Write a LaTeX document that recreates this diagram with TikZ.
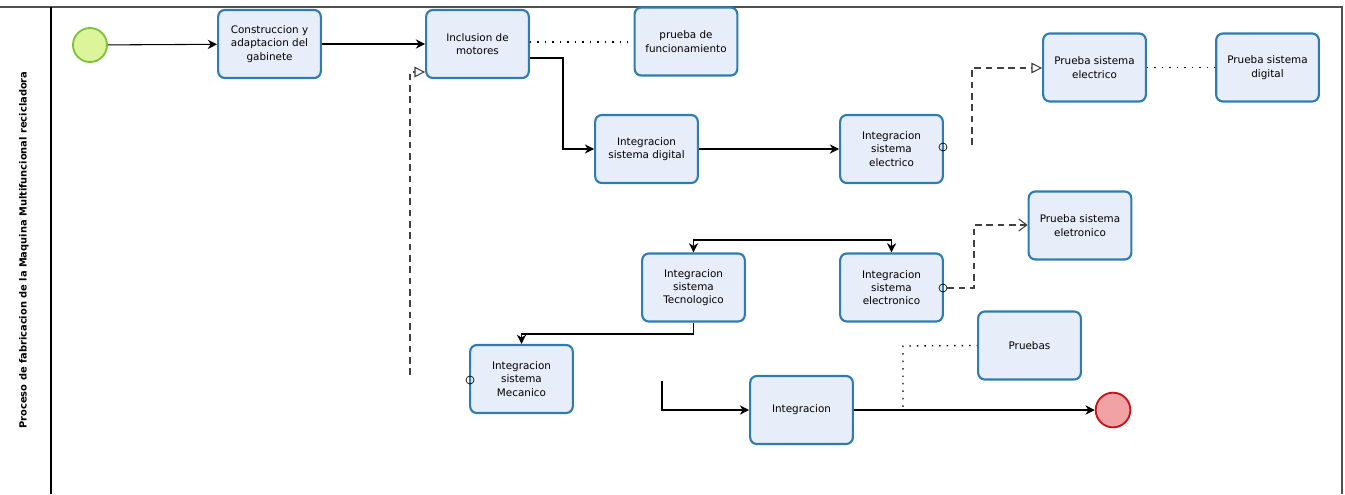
\documentclass[tikz,border=0pt]{standalone}
\usepackage{fontspec}
\setmainfont{DejaVu Sans}
\usetikzlibrary{arrows.meta}
\definecolor{boxfill}{HTML}{E8EDFA}
\definecolor{boxdraw}{HTML}{2E7DB0}
\definecolor{startfill}{HTML}{DDF59A}
\definecolor{startdraw}{HTML}{7CC23C}
\definecolor{endfill}{HTML}{F0A2A4}
\definecolor{enddraw}{HTML}{C0161C}
\definecolor{frame}{HTML}{505050}
\definecolor{msg}{HTML}{404040}
\tikzset{
  task/.style={draw=boxdraw, fill=boxfill, line width=1.6pt, rounded corners=5pt,
    minimum width=77pt, minimum height=51pt, inner sep=1pt, align=center,
    font=\fontsize{7.8}{10}\selectfont},
  seqflow/.style={-{Stealth[length=7pt,width=7pt]}, line width=0.8pt},
  assoc/.style={dash pattern=on 1.1pt off 4.5pt, line width=1pt},
  msgflow/.style={draw=msg, dash pattern=on 5pt off 3.5pt, line width=0.8pt, -{Triangle[open, length=8pt, width=8pt]}},
  msgflowv/.style={draw=msg, dash pattern=on 5pt off 3.5pt, line width=0.8pt, -{Straight Barb[length=6pt, width=9pt]}},
  bevent/.style={circle, draw=black, line width=0.5pt, minimum size=6pt, inner sep=0pt},
}
\begin{document}
\begin{tikzpicture}[x=0.75pt, y=-0.75pt]
\useasboundingbox (0,0) rectangle (1345,494);
% frame
\draw[frame, line width=1.6pt] (0,7) -- (1342,7) -- (1342,494);
\draw[black, line width=1.2pt] (51,7) -- (51,494);
\node[rotate=90, font=\bfseries\fontsize{7.4}{8}\selectfont] (lane) at (24,250)
  {Proceso de fabricacion de la Maquina Multifuncional recicladora};

% events
\node[circle, draw=startdraw, fill=startfill, line width=1.4pt, minimum size=25.5pt, inner sep=0pt] (start) at (90,45) {};
\node[circle, draw=enddraw, fill=endfill, line width=1.4pt, minimum size=26pt, inner sep=0pt] (end) at (1113,410) {};

% tasks
\node[task] (b1) at (269.5,44) {Construccion y\\adaptacion del\\gabinete};
\node[task] (b2) at (477.5,44) {Inclusion de\\motores};
\node[task] (b3) at (686,41.5) {prueba de\\funcionamiento};
\node[task] (b4) at (646.5,149) {Integracion\\sistema digital};
\node[task] (b5) at (891.5,149) {Integracion\\sistema\\electrico};
\node[task] (b6) at (1094.5,67.5) {Prueba sistema\\electrico};
\node[task] (b7) at (1267.5,67.5) {Prueba sistema\\digital};
\node[task] (b8) at (1080,225.5) {Prueba sistema\\eletronico};
\node[task] (b9) at (693.5,287.5) {Integracion\\sistema\\Tecnologico};
\node[task] (b10) at (891.5,287.5) {Integracion\\sistema\\electronico};
\node[task] (b11) at (521.5,379) {Integracion\\sistema\\Mecanico};
\node[task] (b12) at (801.5,410) {Integracion};
\node[task] (b13) at (1029.5,345.5) {Pruebas};

% boundary events
\node[bevent] (e5) at (943,147) {};
\node[bevent] (e10) at (943,288) {};
\node[bevent] (e11) at (470,380) {};

% sequence flows
\draw[seqflow] (start) -- (b1);
\draw[seqflow] (b1) -- (b2);
\draw[seqflow] (b2.east |- 0,58) -- (563,58) -- (563,149) -- (b4.west);
\draw[seqflow] (b4) -- (b5);
\draw[seqflow] (b12) -- (end);
\draw[seqflow] (b9.south) -- (693.5,334) -- (b11.north |- 0,334) -- (b11.north);
\draw[{Stealth[length=7pt,width=7pt]}-{Stealth[length=7pt,width=7pt]}, line width=0.8pt]
  (b9.north) -- (693.5,240) -- (891.5,240) -- (b10.north);
\coordinate (c12) at (662,381);
\draw[seqflow] (c12) -- (662,410) -- (b12.west);

% associations
\draw[assoc] (b2.east |- 0,42) -- (b3.west |- 0,42);
\draw[assoc] (b6) -- (b7);
\draw[assoc] (b12.east) -- (903,410) -- (903,346) -- (b13.west);

% message flows
\coordinate (c5) at (972,145);
\draw[msgflow] (c5) -- (972,68) -- (b6.west |- 0,68);
\coordinate (c2) at (410,375);
\draw[msgflow] (c2) -- (410,72) -- (b2.west |- 0,72);
\draw[msgflowv] (e10) -- (974,288) -- (974,225) -- (b8.west |- 0,225);
\end{tikzpicture}
\end{document}
